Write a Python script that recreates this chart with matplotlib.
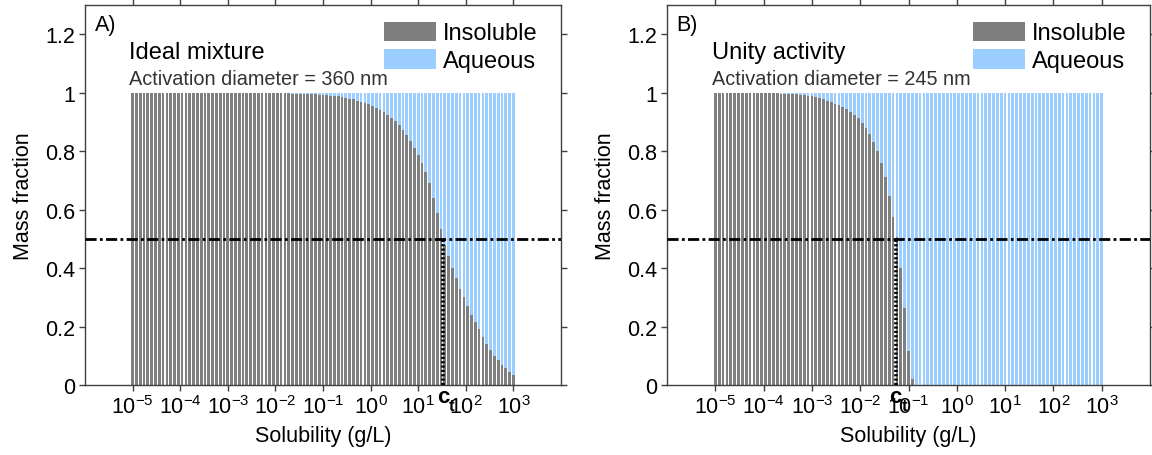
import numpy as np
import matplotlib
matplotlib.use("Agg")
import matplotlib.pyplot as plt
from matplotlib.patches import Patch
from matplotlib.ticker import FixedLocator, FuncFormatter
import matplotlib.transforms as mtransforms

plt.rcParams['font.family'] = ['Liberation Sans', 'DejaVu Sans']
plt.rcParams['mathtext.fontset'] = 'custom'
plt.rcParams['mathtext.rm'] = 'Liberation Sans'
plt.rcParams['mathtext.it'] = 'Liberation Sans:italic'
plt.rcParams['mathtext.bf'] = 'Liberation Sans:bold'

# bar positions: log10 of solubility (g/L), 10^-5 .. 10^3
log_solubility = np.linspace(-5, 3, 101)

# insoluble mass fraction per bar, panel A (ideal mixture)
insoluble_a = [
    1.0, 1.0, 1.0, 1.0, 1.0, 1.0, 1.0, 1.0, 1.0, 1.0,
    1.0, 1.0, 1.0, 1.0, 1.0, 1.0, 1.0, 1.0, 1.0, 1.0,
    1.0, 1.0, 1.0, 1.0, 1.0, 1.0, 1.0, 1.0, 1.0, 1.0,
    1.0, 1.0, 1.0, 1.0, 1.0, 1.0, 1.0, 1.0, 0.999, 0.999,
    0.998, 0.998, 0.997, 0.997, 0.996, 0.996, 0.995, 0.994, 0.994, 0.993,
    0.992, 0.991, 0.990, 0.989, 0.987, 0.985, 0.983, 0.980, 0.977, 0.973,
    0.969, 0.965, 0.960, 0.955, 0.949, 0.942, 0.934, 0.925, 0.914, 0.902,
    0.888, 0.872, 0.854, 0.834, 0.811, 0.786, 0.758, 0.728, 0.69, 0.64,
    0.59, 0.535, 0.48, 0.44, 0.40, 0.365, 0.33, 0.30, 0.27, 0.24,
    0.215, 0.19, 0.165, 0.14, 0.12, 0.10, 0.085, 0.07, 0.057, 0.046,
    0.035,
]

# insoluble mass fraction per bar, panel B (unity activity)
insoluble_b = [
    1.0, 1.0, 1.0, 1.0, 1.0, 1.0, 1.0, 1.0, 1.0, 1.0,
    1.0, 1.0, 1.0, 0.999, 0.999, 0.998, 0.998, 0.997, 0.997, 0.996,
    0.995, 0.994, 0.993, 0.991, 0.989, 0.987, 0.984, 0.981, 0.977, 0.973,
    0.968, 0.963, 0.957, 0.951, 0.943, 0.935, 0.925, 0.913, 0.898, 0.88,
    0.858, 0.833, 0.80, 0.76, 0.71, 0.645, 0.575, 0.505, 0.40, 0.265,
    0.115, 0.02, 0.0, 0.0, 0.0, 0.0, 0.0, 0.0, 0.0, 0.0,
    0.0, 0.0, 0.0, 0.0, 0.0, 0.0, 0.0, 0.0, 0.0, 0.0,
    0.0, 0.0, 0.0, 0.0, 0.0, 0.0, 0.0, 0.0, 0.0, 0.0,
    0.0, 0.0, 0.0, 0.0, 0.0, 0.0, 0.0, 0.0, 0.0, 0.0,
    0.0, 0.0, 0.0, 0.0, 0.0, 0.0, 0.0, 0.0, 0.0, 0.0,
    0.0,
]

panel_letters = ["A)", "B)"]
panel_titles = ["Ideal mixture", "Unity activity"]
activation_diameters = [360, 245]
critical_solubility = [33.0, 0.054]   # c_t, g/L
x_tick_exponents = [-5, -4, -3, -2, -1, 0, 1, 2, 3]
y_ticks = [0, 0.2, 0.4, 0.6, 0.8, 1.0, 1.2]

GRAY = "#7f7f7f"
BLUE = "#9ccdff"
SPINE = "#404040"

fig = plt.figure(figsize=(11.52, 4.56), dpi=100)
ax_a = fig.add_axes([85 / 1152, 1 - 386 / 456, 476 / 1152, 380 / 456])
ax_b = fig.add_axes([667 / 1152, 1 - 386 / 456, 483 / 1152, 380 / 456])


def draw_panel(ax, insoluble, letter, title, diameter, ct):
    insoluble = np.array(insoluble)
    step = log_solubility[1] - log_solubility[0]
    half = 0.36 * step
    left = 10 ** (log_solubility - half)
    width = 10 ** (log_solubility + half) - left

    ax.bar(left, insoluble, width=width, align='edge', color=GRAY, lw=0)
    ax.bar(left, 1 - insoluble, bottom=insoluble, width=width, align='edge',
           color=BLUE, lw=0)

    ax.set_xscale('log')
    ax.set_xlim(1e-6, 1e4)
    ax.set_ylim(0, 1.3)

    ax.axhline(0.5, color='black', lw=2, ls=(0, (4, 1.2, 1, 1.2)), zorder=4)
    ax.plot([ct, ct], [0, 0.5], color='black', lw=2.6, ls=(0, (0.6, 0.6)),
            zorder=4)

    ax.xaxis.set_major_locator(FixedLocator([10.0 ** e for e in x_tick_exponents]))
    ax.xaxis.set_minor_locator(FixedLocator([]))
    ax.xaxis.set_major_formatter(
        FuncFormatter(lambda v, p: r'$10^{%d}$' % round(np.log10(v))))
    ax.set_yticks(y_ticks)
    ax.yaxis.set_major_formatter(FuncFormatter(lambda v, p: '%g' % round(v, 1)))
    ax.tick_params(direction='out', length=4, width=1, color=SPINE,
                   labelsize=15.5, top=True, right=True, pad=3)
    for s in ax.spines.values():
        s.set_color(SPINE)
        s.set_linewidth(1)

    ax.set_xlabel("Solubility (g/L)", fontsize=15.5, labelpad=5)
    ax.set_ylabel("Mass fraction", fontsize=15.5, labelpad=8)

    ax.text(0.02, 0.975, letter, transform=ax.transAxes, fontsize=15.5,
            va='top', ha='left')
    ax.text(0.093, 0.86, title, transform=ax.transAxes, fontsize=17,
            va='baseline', ha='left')
    ax.text(0.093, 0.793, "Activation diameter = %d nm" % diameter,
            transform=ax.transAxes, fontsize=14.3, color='#333333',
            va='baseline', ha='left')

    # c_t label under the axis
    trans = mtransforms.blended_transform_factory(ax.transData, ax.transAxes)
    ax.annotate("c", xy=(ct, 0), xycoords=trans, xytext=(0, -8),
                textcoords='offset points', ha='center', va='center',
                fontsize=16, fontweight='bold', annotation_clip=False)
    ax.annotate("t", xy=(ct, 0), xycoords=trans, xytext=(6.5, -15),
                textcoords='offset points', ha='center', va='center',
                fontsize=12, fontweight='bold', annotation_clip=False)

    handles = [Patch(facecolor=GRAY, edgecolor='none', label="Insoluble"),
               Patch(facecolor=BLUE, edgecolor='none', label="Aqueous")]
    ax.legend(handles=handles, loc='upper right', frameon=False, fontsize=17,
              handlelength=2.2, handleheight=0.9, handletextpad=0.3,
              labelspacing=0.2, borderaxespad=0.3,
              bbox_to_anchor=(0.985, 1.0))


for ax, ins, let, tit, dia, ct in zip([ax_a, ax_b], [insoluble_a, insoluble_b],
                                      panel_letters, panel_titles,
                                      activation_diameters, critical_solubility):
    draw_panel(ax, ins, let, tit, dia, ct)

fig.savefig("out.png", dpi=100)
